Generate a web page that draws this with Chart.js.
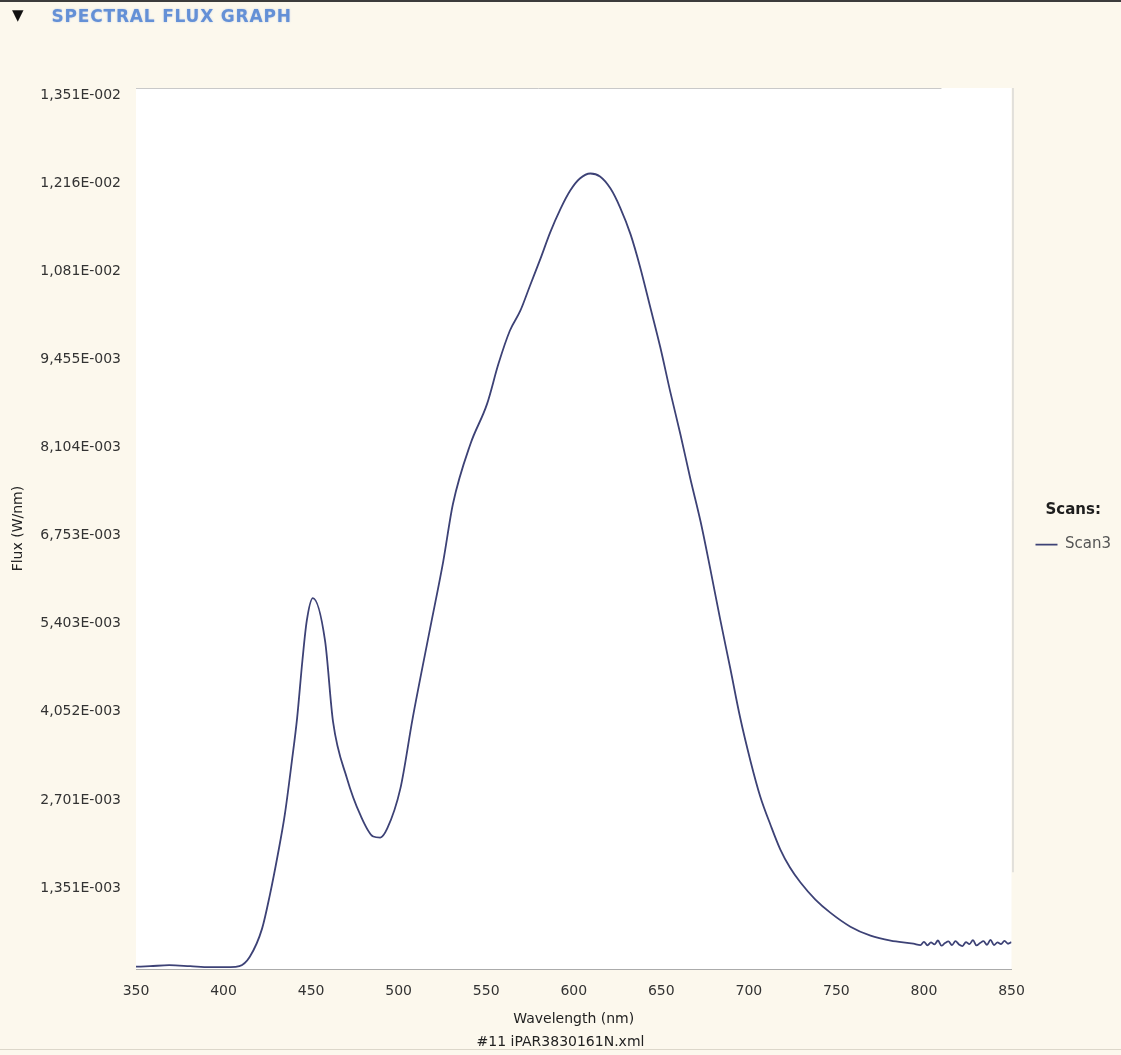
<!DOCTYPE html>
<html>
<head>
<meta charset="utf-8">
<title>Spectral Flux Graph</title>
<script src="https://cdn.jsdelivr.net/npm/chart.js@4.4.1/dist/chart.umd.min.js"></script>
<style>
    html, body { margin: 0; padding: 0; }
    body {
        width: 1121px;
        height: 1055px;
        position: relative;
        overflow: hidden;
        background: #fcf8ed;
        font-family: "DejaVu Sans", sans-serif;
    }
    #topLine { position: absolute; left: 0; top: 0; width: 1121px; height: 2px; background: #3c3c3c; }
    #bottomLine { position: absolute; left: 0; top: 1049px; width: 1121px; height: 1px; background: #dcd7ca; }
    #header { position: absolute; left: 12px; top: 6px; z-index: 2; white-space: nowrap; }
    #header .arrow { font-size: 15px; color: #111; vertical-align: 2px; margin-right: 28px; }
    #header .title {
        font-size: 17px;
        font-weight: bold;
        letter-spacing: 0.8px;
        color: #6490d6;
        text-shadow: 0 0 2px rgba(110, 150, 220, 0.45);
    }
    #chartBox { position: absolute; left: 0; top: 0; width: 1121px; height: 1055px; }
</style>
</head>
<body>
<div id="topLine"></div>
<div id="header"><span class="arrow">&#9660;</span><span class="title">SPECTRAL FLUX GRAPH</span></div>
<div id="chartBox"><canvas id="fluxChart"></canvas></div>
<div id="bottomLine"></div>

<script>
// Длины волн (нм) и поток Scan3 (Вт/нм)
const wavelengths = [
    350, 358, 369, 381, 392, 404, 409, 415, 422, 426.5,
    431, 435, 439, 442, 445, 447.5, 451, 458, 462.5, 470.5,
    478, 485.5, 489.5, 493.5, 501, 508, 518, 525.5, 531, 541,
    550.5, 557, 563.5, 569.5, 575, 581, 586.5, 592.5, 598, 603.5,
    609.5, 615, 621, 626.5, 632.5, 638, 643.5, 649.5, 655, 661,
    666.5, 672.5, 678, 683.5, 689.5, 695, 701, 706.5, 712.5, 718,
    723.5, 729.5, 738, 746.5, 758, 769.5, 781, 794,
    798, 800, 802, 804, 806, 808, 810, 812, 814, 816,
    818, 820, 822, 824, 826, 828, 830, 832, 834, 836,
    838, 840, 842, 844, 846, 848, 850
];

const fluxScan3 = [
    0.000038, 0.000046, 0.000061, 0.000046, 0.000031, 0.000031, 0.000046, 0.000192, 0.000622, 0.001144,
    0.001758, 0.002372, 0.003185, 0.003845, 0.004720, 0.005334, 0.005687, 0.005027, 0.003799, 0.002924,
    0.002372, 0.002034, 0.002018, 0.002157, 0.002771, 0.003845, 0.005227, 0.006255, 0.007130, 0.008051,
    0.008665, 0.009279, 0.009786, 0.010093, 0.010476, 0.010891, 0.011290, 0.011658, 0.011935, 0.012119,
    0.012196, 0.012150, 0.011965, 0.011674, 0.011259, 0.010753, 0.010169, 0.009525, 0.008865, 0.008189,
    0.007529, 0.006854, 0.006132, 0.005380, 0.004597, 0.003861, 0.003185, 0.002648, 0.002203, 0.001834,
    0.001558, 0.001328, 0.001067, 0.000867, 0.000652, 0.000514, 0.000437, 0.000391,
    0.000370, 0.000420, 0.000365, 0.000410, 0.000380, 0.000440, 0.000360, 0.000400, 0.000425, 0.000370,
    0.000430, 0.000380, 0.000355, 0.000415, 0.000385, 0.000445, 0.000365, 0.000400, 0.000430, 0.000375,
    0.000450, 0.000370, 0.000410, 0.000385, 0.000435, 0.000390, 0.000415
];

// Подписи осей
const yStep = 0.00135067;
const yTickLabels = ['', '1,351E-003', '2,701E-003', '4,052E-003', '5,403E-003', '6,753E-003',
    '8,104E-003', '9,455E-003', '1,081E-002', '1,216E-002', '1,351E-002'];
const xMin = 350;
const xMax = 850;
const xStep = 50;

// Белое поле графика и рамка сверху/справа
const plotFrame = {
    id: 'plotFrame',
    beforeDraw(chart) {
        const {ctx, chartArea: a} = chart;
        ctx.save();
        ctx.fillStyle = '#ffffff';
        ctx.fillRect(a.left, a.top, a.right - a.left, a.bottom - a.top);
        ctx.strokeStyle = '#c9c9c9';
        ctx.lineWidth = 1;
        ctx.beginPath();
        ctx.moveTo(a.left, a.top + 0.5);
        ctx.lineTo(a.left + (a.right - a.left) * 0.92, a.top + 0.5);
        ctx.moveTo(a.right + 1.5, a.top);
        ctx.lineTo(a.right + 1.5, a.top + (a.bottom - a.top) * 0.89);
        ctx.stroke();
        ctx.restore();
    }
};

Chart.defaults.font.family = '"DejaVu Sans", sans-serif';
Chart.defaults.font.size = 14;
Chart.defaults.color = '#333';

function initChart() {
    const ctx = document.getElementById('fluxChart').getContext('2d');
    new Chart(ctx, {
        type: 'line',
        data: {
            datasets: [{
                label: 'Scan3',
                data: wavelengths.map((w, i) => ({x: w, y: fluxScan3[i]})),
                borderColor: '#3d4276',
                borderWidth: 1.8,
                pointRadius: 0,
                cubicInterpolationMode: 'monotone',
                fill: false
            }]
        },
        options: {
            responsive: true,
            maintainAspectRatio: false,
            animation: false,
            layout: {padding: {top: 88, left: 0, right: 0, bottom: 0}},
            plugins: {
                legend: {
                    position: 'right',
                    fullSize: false,
                    maxWidth: 96,
                    title: {
                        display: true,
                        text: 'Scans:',
                        color: '#1e1e1e',
                        font: {size: 15, weight: 'bold'},
                        padding: {top: 8, bottom: 6}
                    },
                    labels: {
                        usePointStyle: true,
                        pointStyle: 'line',
                        pointStyleWidth: 22,
                        padding: 10,
                        color: '#555',
                        font: {size: 15}
                    }
                },
                title: {
                    display: true,
                    position: 'bottom',
                    text: '#11 iPAR3830161N.xml',
                    color: '#222',
                    font: {size: 14, weight: 'normal'},
                    padding: {top: 0, bottom: 4}
                },
                tooltip: {enabled: false}
            },
            scales: {
                x: {
                    type: 'linear',
                    min: xMin,
                    max: xMax,
                    ticks: {stepSize: xStep, padding: 14, color: '#333'},
                    grid: {display: false, drawTicks: false},
                    border: {display: true, color: '#ababab'},
                    title: {
                        display: true,
                        text: 'Wavelength (nm)',
                        color: '#222',
                        padding: {top: 0, bottom: 6}
                    },
                    afterFit(scale) { scale.height = 65; }
                },
                y: {
                    min: 0,
                    max: yStep * 10,
                    ticks: {
                        stepSize: yStep,
                        padding: 15,
                        labelOffset: 7,
                        color: '#333',
                        callback: (value, index) => yTickLabels[index]
                    },
                    grid: {display: false, drawTicks: false},
                    border: {display: false},
                    title: {
                        display: true,
                        text: 'Flux (W/nm)',
                        color: '#222',
                        padding: {top: 10, bottom: 0}
                    },
                    afterFit(scale) { scale.width = 136; }
                },
                // пустая ось справа — зазор между полем и легендой
                gap: {
                    position: 'right',
                    ticks: {display: false},
                    grid: {display: false, drawTicks: false},
                    border: {display: false},
                    afterFit(scale) { scale.width = 14; }
                }
            }
        },
        plugins: [plotFrame]
    });
}

document.addEventListener('DOMContentLoaded', initChart);
</script>
</body>
</html>
